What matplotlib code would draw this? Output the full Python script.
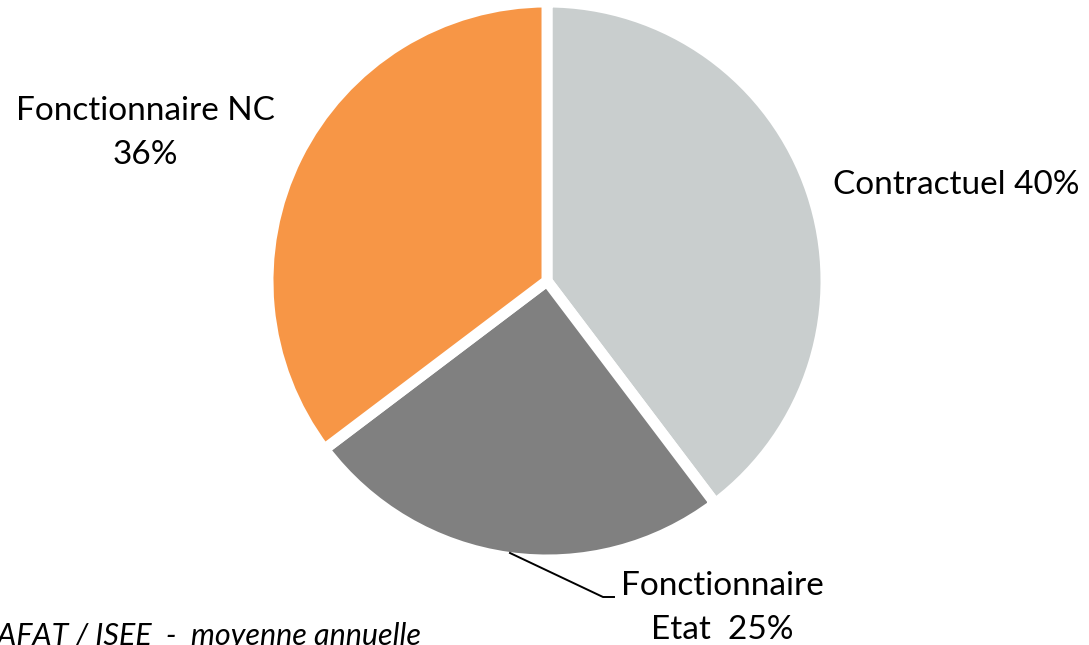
import matplotlib.pyplot as plt

labels = ["Contractuel 40%", "Fonctionnaire\nEtat  25%", "Fonctionnaire NC\n36%"]
shares = [39.7, 25.0, 35.3]
colors = ["#C9CECE", "#808080", "#F79646"]
source = "AFAT / ISEE  -  moyenne annuelle"

plt.rcParams['font.family'] = ['Lato', 'DejaVu Sans']

fig = plt.figure(figsize=(10.89, 6.45), dpi=100)
ax = fig.add_axes([0, 0, 1, 1])

ax.pie(shares, colors=colors, startangle=90, counterclock=False,
       center=(547, 364), radius=279,
       wedgeprops=dict(edgecolor='white', linewidth=7.9))

ax.set_xlim(0, 1089)
ax.set_ylim(0, 645)
ax.set_aspect('equal')
ax.axis('off')

fs = 24
ax.text(833, 460, labels[0], fontsize=fs, ha='left', va='center')
ax.text(145, 512, labels[2], fontsize=fs, ha='center', va='center', linespacing=1.55)
ax.text(722, 37, labels[1], fontsize=fs, ha='center', va='center', linespacing=1.55)

# leader line for the Etat slice
ax.plot([510, 603, 614], [92, 48, 48], color='black', lw=1.4)

ax.text(-3, 0, source, fontsize=22, style='italic', ha='left', va='baseline')

fig.savefig("out.png", dpi=100)
